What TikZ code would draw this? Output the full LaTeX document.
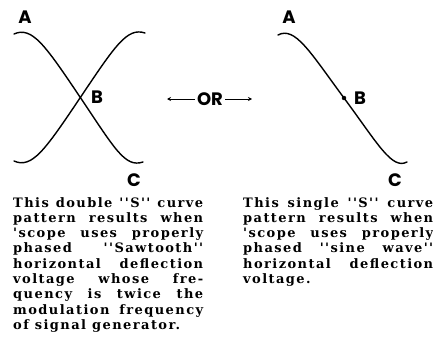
\documentclass[tikz,border=0pt]{standalone}
\usepackage{fontspec}
\usepackage{tikz}
\usetikzlibrary{arrows.meta}

\newfontfamily\fontetichette{Poppins}
\newfontfamily\fontdidascalia{DejaVu Serif}[LetterSpace=11, BoldFeatures={LetterSpace=11}]

\newcommand{\riga}[1]{\makebox[190pt][s]{#1}} % riga giustificata
\newcommand{\ultima}[1]{\makebox[190pt][l]{#1}} % ultima riga

\tikzset{
	curva/.style={line width=1.4pt, line cap=round},
	lettera/.style={font=\fontetichette\bfseries\fontsize{18}{18}\selectfont, inner sep=0pt},
	didascalia/.style={font=\fontdidascalia\bfseries\fontsize{13}{15.3}\selectfont, align=left, inner sep=0pt, anchor=north west},
	freccia/.style={-{Stealth[length=4pt,width=4pt]}, line width=0.9pt}
}

\begin{document}
\begin{tikzpicture}[x=1pt,y=-1pt]
		\useasboundingbox (0,0) rectangle (433,337); % Margini della figura
		
		% Doppia curva a S
		\draw[curva] (14,34) .. controls (32,26) and (45,45) .. (80,97) .. controls (115,149) and (125,168) .. (143,162); % Curva da A a C
		\draw[curva] (14,161) .. controls (32,169) and (45,150) .. (80,98) .. controls (115,46) and (127,27) .. (145,33); % Curva opposta
		\node[lettera] (a1) at (25,17) {A}; % Etichetta A
		\node[lettera] (b1) at (97,97) {B}; % Etichetta B
		\node[lettera] (c1) at (134,180) {C}; % Etichetta C
		
		% Curva singola a S
		\draw[curva] (278,35) .. controls (295,26) and (310,52) .. (344,98) .. controls (378,144) and (392,170) .. (407,162); % Curva da A a C
		\filldraw (344,98) circle (2pt); % Punto B
		\node[lettera] (a2) at (289,17) {A}; % Etichetta A
		\node[lettera] (b2) at (360,98) {B}; % Etichetta B
		\node[lettera] (c2) at (395,180) {C}; % Etichetta C
		
		% Frecce con OR
		\node[lettera] (or) at (210,99) {OR}; % Scritta centrale
		\coordinate (sx) at (167,99); % Punta sinistra
		\coordinate (dx) at (252,99); % Punta destra
		\draw[freccia] ([xshift=-2pt]or.west) -- (sx); % Freccia a sinistra
		\draw[freccia] ([xshift=2pt]or.east) -- (dx); % Freccia a destra
		
		% Testi
		\node[didascalia] (testo1) at (13,197) {%
			\riga{This double ''S'' curve}\\
			\riga{pattern results when}\\
			\riga{'scope uses properly}\\
			\riga{phased ''Sawtooth''}\\
			\riga{horizontal deflection}\\
			\riga{voltage whose fre-}\\
			\riga{quency is twice the}\\
			\riga{modulation frequency}\\
			\ultima{of signal generator.}}; % Testo sinistro
		\node[didascalia] (testo2) at (243,197) {%
			\riga{This single ''S'' curve}\\
			\riga{pattern results when}\\
			\riga{'scope uses properly}\\
			\riga{phased ''sine wave''}\\
			\riga{horizontal deflection}\\
			\ultima{voltage.}}; % Testo destro
	\end{tikzpicture}
\end{document}
